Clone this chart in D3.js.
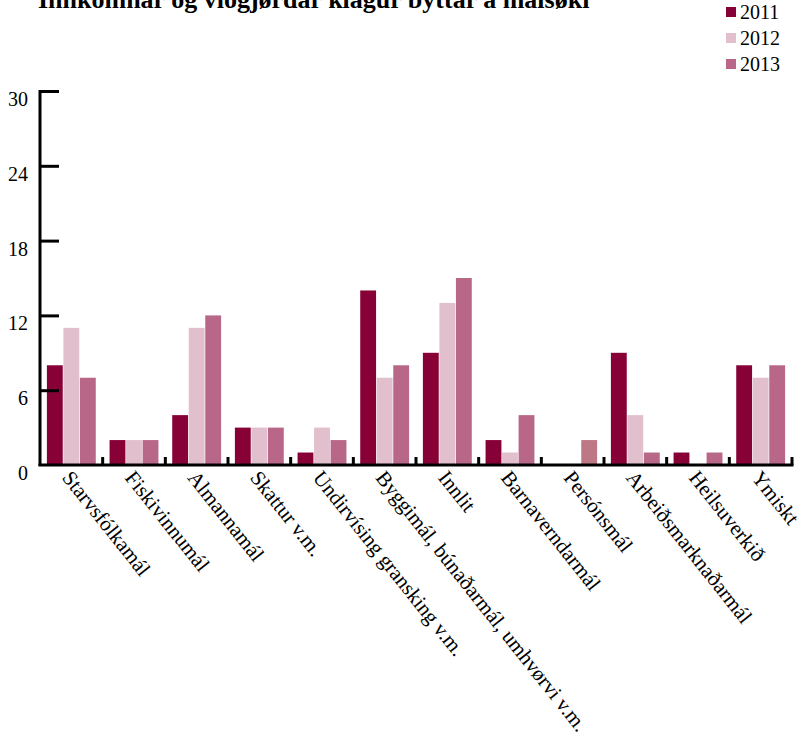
<!DOCTYPE html>
<html>
<head>
<meta charset="utf-8">
<script src="https://cdn.jsdelivr.net/npm/d3@7"></script>
<style>
  body { margin: 0; background: #fff; }
  svg { display: block; }
  svg text { font-family: 'Liberation Serif', 'Times New Roman', serif; }
</style>
</head>
<body>
<svg id="chart" width="805" height="743"></svg>
<script>
(function() {
    'use strict';

    var categories = ['Starvsfólkamál', 'Fiskivinnumál', 'Almannamál', 'Skattur v.m.', 'Undirvísing gransking v.m.',
        'Byggimál, búnaðarmál, umhvørvi v.m.', 'Innlit', 'Barnaverndarmál', 'Persónsmál', 'Arbeiðsmarknaðarmál',
        'Heilsuverkið', 'Ymiskt'];
    var years = ['2011', '2012', '2013'];
    var values2011 = [8, 2, 4, 3, 1, 14, 9, 2, 0, 9, 1, 8];
    var values2012 = [11, 2, 11, 3, 3, 7, 13, 1, 0, 4, 0, 7];
    var values2013 = [7, 2, 12, 3, 2, 8, 15, 4, 2, 1, 1, 8];
    var yTicks = [0, 6, 12, 18, 24, 30];
    var title = 'Innkomnar og viðgjørdar klagur býttar á málsøki';

    var colors = ['#870036', '#e2bfcc', '#b96788'];
    var series = [values2011, values2012, values2013];
    var serif = "'Liberation Serif', 'Times New Roman', serif";

    var left = 40, right = 792, top = 91, bottom = 465;
    var svg = d3.select('#chart');

    var x0 = d3.scaleBand().domain(categories).range([left, right]).paddingInner(0.22).paddingOuter(0.11);
    var x1 = d3.scaleBand().domain(years).range([0, x0.bandwidth()]).paddingInner(0.04);
    var y = d3.scaleLinear().domain([0, 30]).range([bottom, top]);

    // title (cut at the top like the original)
    svg.append('text')
        .attr('x', 38)
        .attr('y', 8)
        .attr('font-family', serif)
        .attr('font-weight', 'bold')
        .attr('font-size', 26)
        .text(title);

    // bars
    var groups = svg.selectAll('g.cat')
        .data(categories)
        .enter().append('g')
        .attr('class', 'cat')
        .attr('transform', function(d) { return 'translate(' + x0(d) + ',0)'; });

    groups.selectAll('rect')
        .data(function(d, i) {
            return years.map(function(yr, j) { return {year: yr, value: series[j][i], j: j, cat: d}; });
        })
        .enter().append('rect')
        .attr('x', function(d) { return x1(d.year); })
        .attr('y', function(d) { return y(d.value); })
        .attr('width', x1.bandwidth())
        .attr('height', function(d) { return y(0) - y(d.value); })
        .attr('fill', function(d) {
            // this one bar has a slightly different tone in the original
            if (d.cat === 'Persónsmál' && d.year === '2013') { return '#be7784'; }
            return colors[d.j];
        });

    // y axis with inside ticks
    var yAxis = d3.axisLeft(y).tickValues(yTicks).tickSizeInner(-19).tickSizeOuter(0).tickPadding(12);
    var gy = svg.append('g').attr('transform', 'translate(' + left + ',0)').call(yAxis);
    gy.attr('font-family', serif);
    gy.select('.domain').attr('stroke', '#000').attr('stroke-width', 3)
        .attr('d', 'M0,' + (top - 1) + 'V' + (bottom + 1));
    gy.selectAll('.tick line').attr('stroke', '#000').attr('stroke-width', 3);
    gy.selectAll('.tick').filter(function(d) { return d === 0; }).select('line').remove();
    gy.selectAll('.tick text')
        .attr('font-family', serif)
        .attr('font-size', 20)
        .attr('fill', '#000')
        .attr('dy', '0.32em')
        .attr('transform', 'translate(0,8)');

    // x axis line and small category ticks pointing up
    svg.append('line')
        .attr('x1', left - 1.5).attr('x2', right + 1.5)
        .attr('y1', bottom).attr('y2', bottom)
        .attr('stroke', '#000').attr('stroke-width', 3);

    var step = x0.step();
    svg.selectAll('line.ctick')
        .data(categories)
        .enter().append('line')
        .attr('class', 'ctick')
        .attr('x1', function(d) { return x0(d) - x0.paddingOuter() * step + step; })
        .attr('x2', function(d) { return x0(d) - x0.paddingOuter() * step + step; })
        .attr('y1', bottom)
        .attr('y2', bottom - 8)
        .attr('stroke', '#000')
        .attr('stroke-width', 3);

    // rotated category labels
    svg.selectAll('text.clabel')
        .data(categories)
        .enter().append('text')
        .attr('class', 'clabel')
        .attr('font-family', serif)
        .attr('font-size', 21)
        .attr('transform', function(d) {
            var cx = x0(d) + x0.bandwidth() / 2 - 10;
            return 'translate(' + cx + ',' + (bottom + 13) + ') rotate(51.5)';
        })
        .text(function(d) { return d; });

    // legend
    var legend = svg.selectAll('g.legend')
        .data(years)
        .enter().append('g')
        .attr('class', 'legend')
        .attr('transform', function(d, i) { return 'translate(726,' + (7 + i * 26) + ')'; });
    legend.append('rect')
        .attr('width', 10).attr('height', 10)
        .attr('fill', function(d, i) { return colors[i]; });
    legend.append('text')
        .attr('x', 14).attr('y', 12)
        .attr('font-family', serif)
        .attr('font-size', 20)
        .text(function(d) { return d; });
})();
</script>
</body>
</html>
